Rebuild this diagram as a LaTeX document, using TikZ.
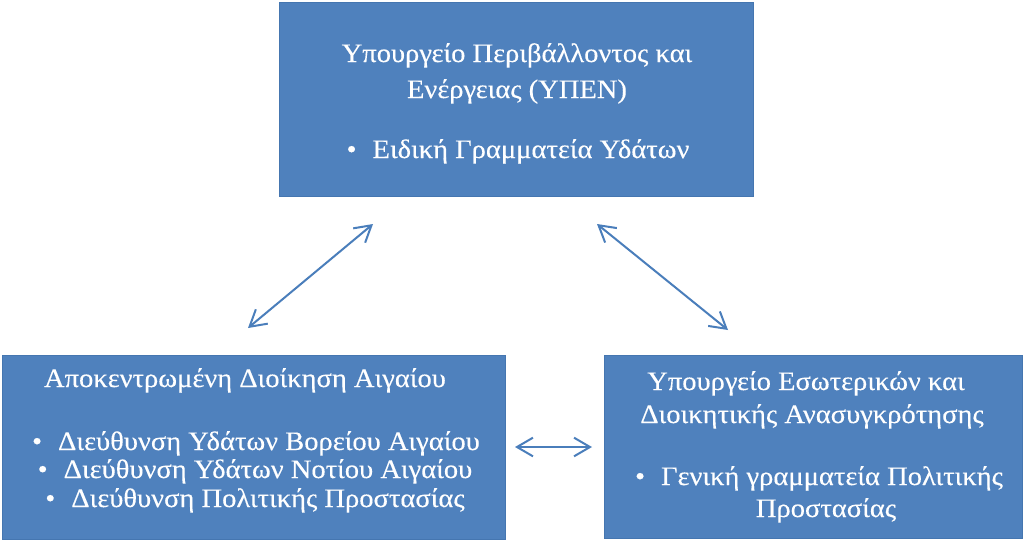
\documentclass[tikz,border=0pt]{standalone}
\usepackage{fontspec}
\setmainfont[FakeStretch=1.07,FakeBold=0.3]{Liberation Serif}
\usetikzlibrary{arrows.meta}
\definecolor{boxblue}{HTML}{4F81BD}
\definecolor{boxedge}{HTML}{4576B0}
\definecolor{arrblue}{HTML}{4A7EBB}
\begin{document}
\begin{tikzpicture}[x=0.75pt,y=-0.75pt,
  box/.style={draw=boxedge, line width=0.75pt, fill=boxblue, inner sep=0pt},
  txt/.style={text=white, anchor=base, font=\fontsize{20}{24}\selectfont, inner sep=0pt},
  conn/.style={draw=arrblue, line width=1.5pt, {Straight Barb[length=12pt,width=14pt]}-{Straight Barb[length=12pt,width=14pt]}}]
\useasboundingbox (0,0) rectangle (1024,547);
\fill[white] (0,0) rectangle (1024,547);
% boxes
\node (top) [box, minimum width=355.5pt, minimum height=145.5pt] at (516,99) {};
\node (left) [box, minimum width=377.25pt, minimum height=138pt] at (253.5,447) {};
\node (right) [box, minimum width=313.5pt, minimum height=137.25pt] at (813,446.5) {};
% top text
\node (t1) [txt] at (517,62) {Υπουργείο Περιβάλλοντος και};
\node (t2) [txt] at (517,98) {Ενέργειας (ΥΠΕΝ)};
\node (t3) [txt] at (518,158) {•\hspace{12pt}Ειδική Γραμματεία Υδάτων};
% left text
\node (l1) [txt] at (245,387) {Αποκεντρωμένη Διοίκηση Αιγαίου};
\node (l2) [txt] at (256,450) {•\hspace{12pt}Διεύθυνση Υδάτων Βορείου Αιγαίου};
\node (l3) [txt] at (255,478) {•\hspace{12pt}Διεύθυνση Υδάτων Νοτίου Αιγαίου};
\node (l4) [txt] at (255,507) {•\hspace{12pt}Διεύθυνση Πολιτικής Προστασίας};
% right text
\node (r1) [txt] at (806,390) {Υπουργείο Εσωτερικών και};
\node (r2) [txt] at (812,423) {Διοικητικής Ανασυγκρότησης};
\node (r3) [txt] at (819,485) {•\hspace{12pt}Γενική γραμματεία Πολιτικής};
\node (r4) [txt] at (826,517) {Προστασίας};
% connectors
\coordinate (a1) at (248,328);
\coordinate (a2) at (373,224);
\coordinate (b1) at (597,224);
\coordinate (b2) at (728,330);
\coordinate (c1) at (515,447);
\coordinate (c2) at (592,447);
\draw[conn] (a1) -- (a2);
\draw[conn] (b1) -- (b2);
\draw[conn] (c1) -- (c2);
\end{tikzpicture}
\end{document}
